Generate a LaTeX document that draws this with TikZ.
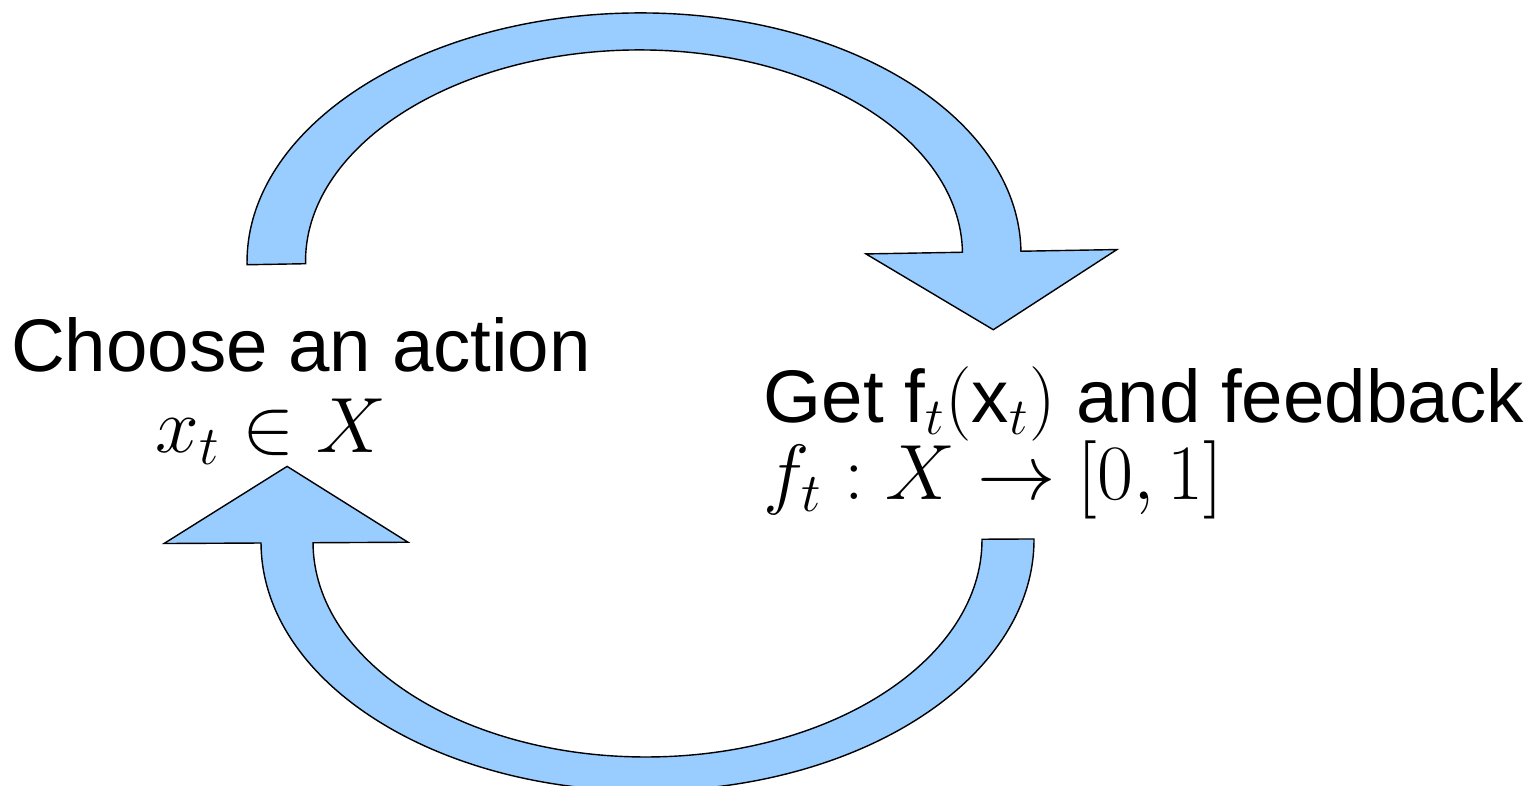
\documentclass[tikz,border=0pt]{standalone}
\usepackage{fix-cm}
\usepackage{fontspec}
\setmainfont{Liberation Sans}
\usepackage{amsmath}
\usepackage{xcolor}
\usetikzlibrary{calc}
\definecolor{loopblue}{RGB}{153,204,255}

\begin{document}
\begin{tikzpicture}[
    band/.style={fill=loopblue, draw=black, line width=0.4pt, line join=miter},
    lbl/.style={inner sep=0pt, font=\fontsize{21.2}{25}\selectfont},
    mlbl/.style={inner sep=0pt, font=\fontsize{22.3}{27}\selectfont}]
  \useasboundingbox (0,0) rectangle (15.33,7.86);
  \clip (0,0) rectangle (15.33,7.86);
  % upper arrow: choose -> feedback
  \begin{scope}[shift={(6.34,5.28)}, rotate=1]
    \draw[band] (-3.87,0) arc[start angle=180, end angle=0, x radius=3.87, y radius=2.45]
      -- (4.83,0) -- (3.58,-0.78) -- (2.32,0) -- (3.285,0)
      arc[start angle=0, end angle=180, x radius=3.285, y radius=2.08] -- cycle;
  \end{scope}
  % lower arrow: feedback -> choose
  \begin{scope}[shift={(6.475,2.45)}, rotate=0.3]
    \draw[band] (3.865,0) arc[start angle=0, end angle=-180, x radius=3.865, y radius=2.50]
      -- (-4.835,0) -- (-3.6,0.765) -- (-2.395,0) -- (-3.345,0)
      arc[start angle=-180, end angle=0, x radius=3.345, y radius=2.16] -- cycle;
  \end{scope}
  \node[lbl, anchor=base] (choose) at (3.01,4.14) {Choose an action};
  \node[mlbl, anchor=base] (action) at (2.71,3.33) {$x_t \in X$};
  \node[lbl, anchor=base west] (get) at (7.63,3.63) {Get f$_t($x$_t)$ and feedback};
  \node[mlbl, anchor=base west] (loss) at (7.63,2.86) {$f_t : X \rightarrow [0,1]$};
\end{tikzpicture}
\end{document}
